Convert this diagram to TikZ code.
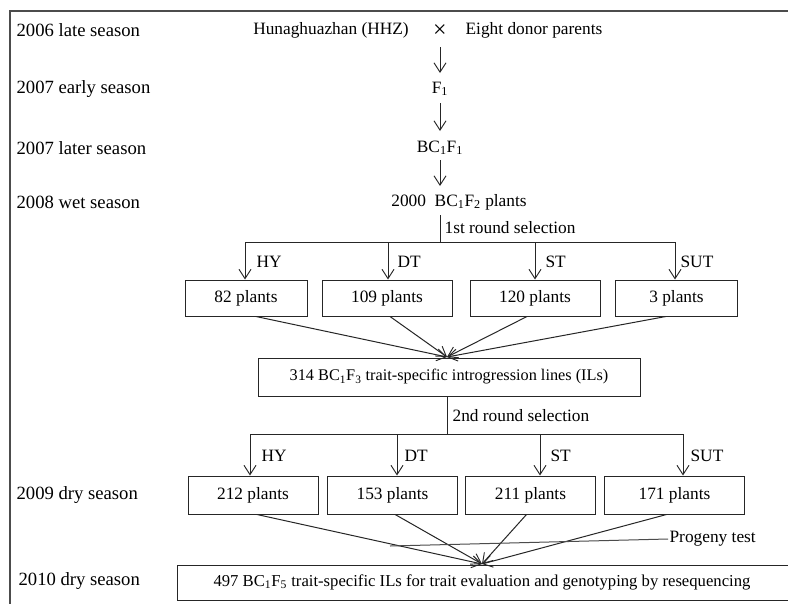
\documentclass[tikz,border=0pt]{standalone}
\usepackage{fontspec}
\setmainfont{Liberation Serif}
\usetikzlibrary{arrows.meta}
\begin{document}
\begin{tikzpicture}[x=0.75pt,y=-0.75pt,
  every node/.style={font=\fontsize{13}{15}\selectfont, inner sep=1pt},
  lbl/.style={anchor=west, font=\fontsize{14}{16}\selectfont},
  box/.style={draw=black!85, line width=0.75pt, minimum height=27pt, inner sep=2pt},
  ln/.style={draw=black!85, line width=0.75pt},
  arr/.style={ln, -{Straight Barb[length=7pt,width=9pt,line width=0.7pt]}},
  frame/.style={draw=black!70, line width=1.6pt}]
\useasboundingbox (0,0) rectangle (788,603);
\clip (0,0) rectangle (788,603);
\fill[white] (0,0) rectangle (788,603);
% frame
\draw[frame] (10,620) -- (10,11) -- (800,11);
% season labels
\node[lbl] (s1) at (15,30) {2006 late season};
\node[lbl] (s2) at (15,89) {2007 early season};
\node[lbl] (s3) at (15,148) {2007 later season};
\node[lbl] (s4) at (15,202) {2008 wet season};
\node[lbl] (s5) at (15,495) {2009 dry season};
\node[lbl] (s6) at (17,581) {2010 dry season};
% top chain
\node (hhz) at (331,30) {Hunaghuazhan (HHZ)};
\node[font=\fontsize{18}{18}\selectfont] (x) at (440,31) {×};
\node (donor) at (534,30) {Eight donor parents};
\node (f1) at (440,89) {F\textsubscript{1}};
\node (bc1) at (440,148) {BC\textsubscript{1}F\textsubscript{1}};
\node (bc2) at (459,202) {2000\ \ BC\textsubscript{1}F\textsubscript{2} plants};
\coordinate (c1) at (440,47);
\coordinate (c2) at (440,73);
\coordinate (c3) at (440,103);
\coordinate (c4) at (440,131);
\coordinate (c5) at (440,160);
\coordinate (c6) at (440,186);
\draw[arr] (c1) -- (c2);
\draw[arr] (c3) -- (c4);
\draw[arr] (c5) -- (c6);
% first selection
\coordinate (r1) at (440,215);
\coordinate (bus1) at (440,242);
\node[anchor=west] (sel1) at (443,228) {1st round selection};
\draw[ln] (r1) -- (bus1);
\coordinate (b1a) at (245,242);
\coordinate (b1b) at (388,242);
\coordinate (b1c) at (535,242);
\coordinate (b1d) at (675,242);
\draw[ln] (b1a) -- (b1d);
\node[box, minimum width=91.5pt] (p1) at (246,298) {82 plants};
\node[box, minimum width=97.5pt] (p2) at (387,298) {109 plants};
\node[box, minimum width=97.5pt] (p3) at (535,298) {120 plants};
\node[box, minimum width=92pt] (p4) at (676.5,298) {3 plants};
\draw[arr] (b1a) -- (b1a |- p1.north);
\draw[arr] (b1b) -- (b1b |- p2.north);
\draw[arr] (b1c) -- (b1c |- p3.north);
\draw[arr] (b1d) -- (b1d |- p4.north);
\node[anchor=west] at (255,262) {HY};
\node[anchor=west] at (396,262) {DT};
\node[anchor=west] at (544,262) {ST};
\node[anchor=west] at (679,262) {SUT};
% ILs box
\node[box, minimum width=286.5pt, minimum height=28.5pt, font=\fontsize{12.2}{14}\selectfont] (ils) at (449,377) {314 BC\textsubscript{1}F\textsubscript{3} trait-specific introgression lines (ILs)};
\coordinate (m1) at (447,357);
\draw[arr] ([xshift=7.5pt]p1.south) -- (m1);
\draw[arr] ([xshift=2.25pt]p2.south) -- (m1);
\draw[arr] ([xshift=-6pt]p3.south) -- (m1);
\draw[arr] ([xshift=-8pt]p4.south) -- (m1);
% second selection
\coordinate (bus2) at (447,434);
\draw[ln] (ils.south -| bus2) -- (bus2);
\node[anchor=west] (sel2) at (451,416) {2nd round selection};
\coordinate (b2a) at (250,434);
\coordinate (b2b) at (397,434);
\coordinate (b2c) at (540,434);
\coordinate (b2d) at (683,434);
\draw[ln] (b2a) -- (b2d);
\node[box, minimum width=97.5pt, minimum height=28.5pt] (q1) at (253,495) {212 plants};
\node[box, minimum width=97pt, minimum height=28.5pt] (q2) at (392.5,495) {153 plants};
\node[box, minimum width=97pt, minimum height=28.5pt] (q3) at (530.5,495) {211 plants};
\node[box, minimum width=105.5pt, minimum height=28.5pt] (q4) at (674.5,495) {171 plants};
\draw[arr] (b2a) -- (b2a |- q1.north);
\draw[arr] (b2b) -- (b2b |- q2.north);
\draw[arr] (b2c) -- (b2c |- q3.north);
\draw[arr] (b2d) -- (b2d |- q4.north);
\node[anchor=west] at (260,456) {HY};
\node[anchor=west] at (403,456) {DT};
\node[anchor=west] at (549,456) {ST};
\node[anchor=west] at (689,456) {SUT};
% final box
\node[box, minimum width=470pt, minimum height=26.25pt, anchor=west, inner sep=0pt, font=\fontsize{12.5}{14}\selectfont] (fin) at (177,582.5) {\makebox[470pt][l]{\hspace{27pt}497 BC\textsubscript{1}F\textsubscript{5} trait-specific ILs for trait evaluation and genotyping by resequencing}};
\coordinate (m2) at (482,564);
\draw[arr] ([xshift=3pt]q1.south) -- (m2);
\draw[arr] ([xshift=2pt]q2.south) -- (m2);
\draw[arr] ([xshift=-3pt]q3.south) -- (m2);
\draw[arr] ([xshift=-6pt]q4.south) -- (m2);
% progeny test
\node[anchor=west] (prog) at (668,539) {Progeny test};
\coordinate (pg) at (390,546);
\draw[ln, draw=black!70] (pg) -- (prog.west);
\end{tikzpicture}
\end{document}
